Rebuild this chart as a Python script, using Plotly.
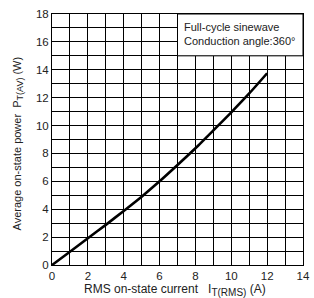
import plotly.graph_objects as go

current_a = [0, 1, 2, 3, 4, 5, 6, 7, 8, 9, 10, 11, 12]
power_w = [0, 0.95, 1.92, 2.88, 3.88, 4.9, 6.0, 7.17, 8.37, 9.65, 10.95, 12.3, 13.75]
x_ticks = [0, 2, 4, 6, 8, 10, 12, 14]
y_ticks = [0, 2, 4, 6, 8, 10, 12, 14, 16, 18]
legend_lines = ["Full-cycle sinewave", "Conduction angle:360°"]
NB = "\u00a0"
x_title = ("RMS on-state current" + NB * 3 + "I<sub><span style='font-size:10px'>T(RMS)</span></sub>"
           + NB + "(A)")
y_title = ("Average on-state power" + NB * 2 + "P<sub><span style='font-size:9px'>T(AV)</span></sub>"
           + NB + "(W)")

FONT = "Liberation Sans, Arial, Helvetica, sans-serif"
TXT = "#222"

fig = go.Figure()
fig.add_trace(go.Scatter(
    x=current_a, y=power_w, mode="lines",
    line=dict(color="black", width=2.6, shape="spline", smoothing=0.6),
    hoverinfo="skip", showlegend=False,
))

axis_common = dict(
    showline=True, linecolor="black", linewidth=1, mirror=True,
    showgrid=True, gridcolor="black", gridwidth=1,
    zeroline=False, ticks="", fixedrange=True, automargin=False,
    tickfont=dict(family=FONT, size=11.5, color=TXT),
)

fig.update_xaxes(
    range=[0, 14], tickvals=x_ticks, ticktext=[str(v) for v in x_ticks],
    minor=dict(dtick=1, showgrid=True, gridcolor="black", gridwidth=1, ticks=""),
    **axis_common,
)
fig.update_yaxes(
    range=[0, 18], tickvals=y_ticks, ticktext=[str(v) for v in y_ticks],
    minor=dict(dtick=1, showgrid=True, gridcolor="black", gridwidth=1, ticks=""),
    **axis_common,
)

fig.add_annotation(
    xref="paper", yref="paper", x=0.49, y=0, yshift=-25,
    xanchor="center", yanchor="middle", text=x_title, showarrow=False,
    font=dict(family=FONT, size=12, color=TXT),
)
fig.add_annotation(
    xref="paper", yref="paper", x=0, y=0.5, xshift=-35, yshift=-4,
    xanchor="center", yanchor="middle", text=y_title, showarrow=False,
    textangle=-90, font=dict(family=FONT, size=11, color=TXT),
)

fig.add_shape(type="rect", xref="x", yref="y", x0=7, x1=14, y0=15, y1=18,
              fillcolor="white", line=dict(color="black", width=1), layer="above")
fig.add_annotation(
    xref="x", yref="y", x=7.25, y=16.55, xanchor="left", yanchor="middle",
    text="<br>".join(legend_lines), align="left", showarrow=False,
    font=dict(family=FONT, size=11, color=TXT),
)

fig.update_layout(
    width=314, height=298,
    margin=dict(l=52, r=11, t=14, b=33),
    paper_bgcolor="white", plot_bgcolor="white",
    showlegend=False,
)

fig.write_html(
    "out.html",
    config={"displayModeBar": False},
    post_script="document.body.style.margin='0';document.body.style.overflow='hidden';",
)
